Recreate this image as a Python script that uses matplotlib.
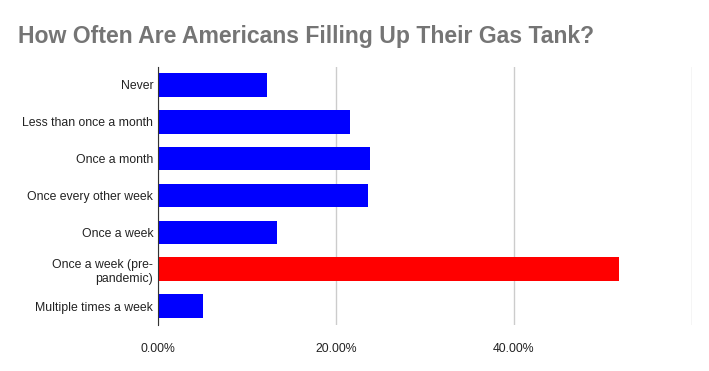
import matplotlib
matplotlib.use("Agg")
import matplotlib.pyplot as plt
from matplotlib.ticker import FuncFormatter

plt.rcParams['font.family'] = ['Liberation Sans', 'DejaVu Sans']

# Data
categories = ["Never", "Less than once a month", "Once a month",
              "Once every other week", "Once a week",
              "Once a week (pre-\npandemic)", "Multiple times a week"]
shares = [12.2, 21.6, 23.8, 23.6, 13.4, 51.8, 5.1]
colors = ["#0000ff", "#0000ff", "#0000ff", "#0000ff", "#0000ff",
          "#ff0000", "#0000ff"]
x_ticks = [0, 20, 40, 60]

fig = plt.figure(figsize=(7.09, 3.71), dpi=100)
ax = fig.add_axes([158 / 709, 1 - 324.5 / 371, (692 - 158) / 709, (324.5 - 66.5) / 371])

ypos = list(range(len(categories)))
ax.barh(ypos, shares, height=0.64, color=colors, zorder=3)

ax.set_ylim(len(categories) - 0.5, -0.5)
ax.set_xlim(0, 60)
ax.set_yticks(ypos)
ax.set_yticklabels(categories, fontsize=8.8, color="#222222")
ax.set_xticks(x_ticks)
ax.xaxis.set_major_formatter(FuncFormatter(lambda v, p: "" if v == 60 else f"{v:.2f}%"))
ax.tick_params(axis='x', labelsize=8.8, colors="#222222", length=0, pad=13)
ax.tick_params(axis='y', length=0, pad=3.5)
ax.grid(axis='x', color="#cccccc", linewidth=1, zorder=0)

for side in ["top", "right", "bottom"]:
    ax.spines[side].set_visible(False)
ax.spines["left"].set_color("#333333")
ax.spines["left"].set_zorder(4)

fig.text(18 / 709, 1 - 36 / 371, "How Often Are Americans Filling Up Their Gas Tank?",
         fontsize=16.6, fontweight="bold", color="#757575", va="center", ha="left")

fig.savefig("out.png", dpi=100)
